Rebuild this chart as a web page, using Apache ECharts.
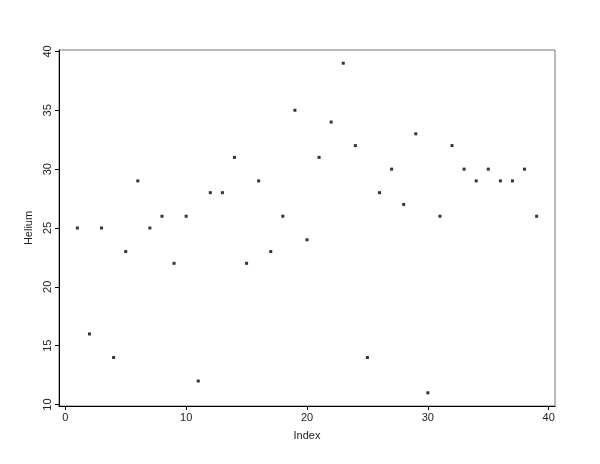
<!DOCTYPE html>
<html>
<head>
<meta charset="utf-8">
<script src="https://cdn.jsdelivr.net/npm/echarts@6/dist/echarts.min.js"></script>
<style>html,body{margin:0;padding:0;background:#fff;}#c{width:600px;height:464px;}</style>
</head>
<body>
<div id="c"></div>
<script>
const index = [1,2,3,4,5,6,7,8,9,10,11,12,13,14,15,16,17,18,19,20,21,22,23,24,25,26,27,28,29,30,31,32,33,34,35,36,37,38,39];
const helium = [25,16,25,14,23,29,25,26,22,26,12,28,28,31,22,29,23,26,35,24,31,34,39,32,14,28,30,27,33,11,26,32,30,29,30,29,29,30,26];
const xTicks = [0,10,20,30,40];
const yTicks = [10,15,20,25,30,35,40];

const points = index.map((v, i) => [v, helium[i]]);
const font = 'Liberation Sans, Arial, sans-serif';

const chart = echarts.init(document.getElementById('c'));
chart.setOption({
  animation: false,
  backgroundColor: '#fff',
  grid: { left: 59, right: 45, top: 50, bottom: 58, show: true, borderColor: '#777', borderWidth: 1 },
  xAxis: {
    type: 'value', min: -0.52, max: 40.52,
    name: 'Index', nameLocation: 'middle', nameGap: 24,
    nameTextStyle: { fontFamily: font, fontSize: 11, color: '#222' },
    splitLine: { show: false },
    axisLine: { onZero: false, lineStyle: { color: '#000', width: 1 } },
    axisTick: { customValues: xTicks, length: 4, lineStyle: { color: '#000' } },
    axisLabel: { customValues: xTicks, margin: 6, fontFamily: font, fontSize: 11, color: '#222' }
  },
  yAxis: {
    type: 'value', min: 9.88, max: 40.12,
    name: 'Helium', nameLocation: 'middle', nameGap: 22,
    nameTextStyle: { fontFamily: font, fontSize: 11, color: '#222' },
    splitLine: { show: false },
    axisLine: { onZero: false, lineStyle: { color: '#000', width: 1 } },
    axisTick: { customValues: yTicks, length: 4, lineStyle: { color: '#000' } },
    axisLabel: { customValues: yTicks, rotate: 90, margin: 6, fontFamily: font, fontSize: 11, color: '#222' }
  },
  series: [{
    type: 'scatter',
    data: points,
    symbol: 'rect',
    symbolSize: 3,
    itemStyle: { color: '#000' }
  }]
});
</script>
</body>
</html>
